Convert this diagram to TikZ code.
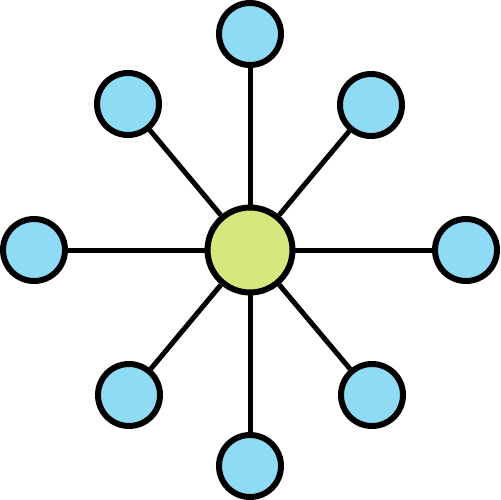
\documentclass[tikz,border=0pt]{standalone}
\definecolor{leafblue}{RGB}{143,219,245}
\definecolor{hubgreen}{RGB}{213,232,125}
\begin{document}
\begin{tikzpicture}[x=0.02cm,y=-0.02cm,
  leaf/.style={circle,draw=black,fill=leafblue,line width=0.12cm,minimum size=1.24cm,inner sep=0pt},
  hub/.style={circle,draw=black,fill=hubgreen,line width=0.12cm,minimum size=1.7cm,inner sep=0pt},
  link/.style={draw=black,line width=0.1cm}]
\useasboundingbox (0,0) rectangle (500,500);
\node[hub] (c) at (250,250) {};
\node[leaf] (n) at (250,34) {};
\node[leaf] (s) at (250,466) {};
\node[leaf] (w) at (34,250) {};
\node[leaf] (e) at (466,250) {};
\node[leaf] (nw) at (128,104) {};
\node[leaf] (ne) at (371,105) {};
\node[leaf] (sw) at (129,395) {};
\node[leaf] (se) at (372,395) {};
\foreach \t in {n,s,w,e,nw,ne,sw,se} \draw[link] (c) -- (\t);
\end{tikzpicture}
\end{document}
